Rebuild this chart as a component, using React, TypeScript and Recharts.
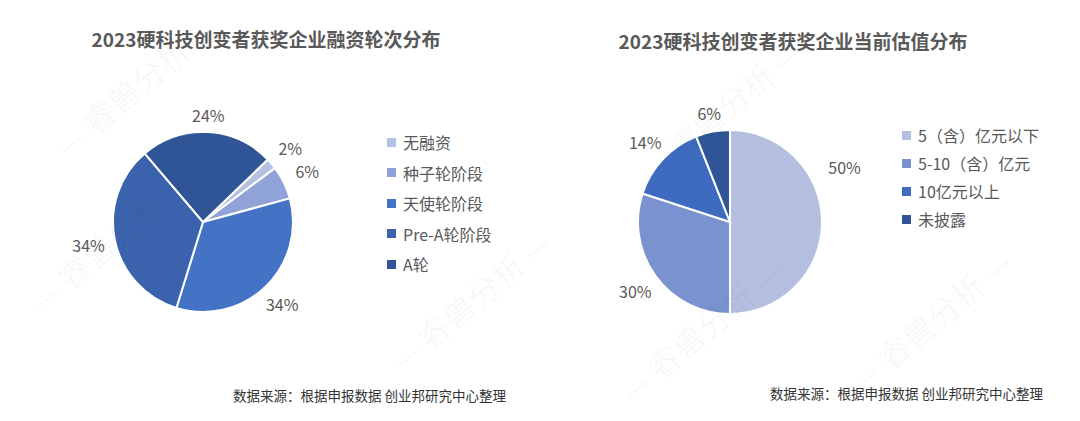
import React from 'react';
import { PieChart, Pie, Cell, Legend } from 'recharts';

const roundNames = ['无融资', '种子轮阶段', '天使轮阶段', 'Pre-A轮阶段', 'A轮'];
const roundValues = [2, 6, 34, 34, 24];
const roundColors = ['#b4c1e3', '#8fa3d6', '#4472c4', '#3b63ad', '#2f5597'];

const valuationNames = ['5（含）亿元以下', '5-10（含）亿元', '10亿元以上', '未披露'];
const valuationValues = [50, 30, 14, 6];
const valuationColors = ['#b4bfe0', '#7a93d0', '#3e6abf', '#2f5597'];

const roundData = roundNames.map((name, i) => ({ name, value: roundValues[i] }));
const valuationData = valuationNames.map((name, i) => ({ name, value: valuationValues[i] }));

const FONT = '"Noto Sans CJK SC", "Noto Sans", sans-serif';
const GREY = '#595959';
const RADIAN = Math.PI / 180;
const NO_MARGIN = { top: 0, right: 0, bottom: 0, left: 0 };

// Excel "best fit" moved this one label up and out
const labelOverride: Record<string, { angle: number; dist: number }> = {
  '5（含）亿元以下': { angle: 25.6, dist: 127 },
};

const renderLabel = (props: any) => {
  const { cx, cy, midAngle, outerRadius, value, name } = props;
  const cos = Math.abs(Math.cos(midAngle * RADIAN));
  let angle = midAngle;
  let dist = outerRadius + 17 + 10 * cos;
  if (labelOverride[name]) {
    angle = labelOverride[name].angle;
    dist = labelOverride[name].dist;
  }
  const x = cx + dist * Math.cos(-angle * RADIAN);
  const y = cy + dist * Math.sin(-angle * RADIAN);
  return (
    <text x={x} y={y} fill={GREY} fontSize={16} fontFamily={FONT} textAnchor="middle" dominantBaseline="central">
      {`${value}%`}
    </text>
  );
};

// legend keeps the data order (recharts would sort it otherwise)
const makeLegend = (names: string[], colors: string[], gap: number) => () => (
  <div>
    {names.map((name, i) => (
      <div key={name} style={{ display: 'flex', alignItems: 'center', height: gap }}>
        <span style={{ width: 9, height: 9, background: colors[i], marginRight: 7, display: 'inline-block' }} />
        <span style={{ fontSize: 16, color: GREY, fontFamily: FONT, whiteSpace: 'nowrap' }}>{name}</span>
      </div>
    ))}
  </div>
);

const titleStyle: React.CSSProperties = {
  position: 'absolute',
  fontFamily: FONT,
  fontWeight: 700,
  fontSize: 19,
  color: GREY,
  whiteSpace: 'nowrap',
  transform: 'translateX(-50%)',
};

const sourceStyle: React.CSSProperties = {
  position: 'absolute',
  fontFamily: FONT,
  fontSize: 13.5,
  color: '#333',
  whiteSpace: 'nowrap',
};

const watermarks = [
  { x: 135, y: 85 },
  { x: 110, y: 240 },
  { x: 470, y: 300 },
  { x: 720, y: 110 },
  { x: 700, y: 330 },
  { x: 930, y: 320 },
];

export default function App() {
  return (
    <div style={{ position: 'absolute', left: 0, top: 0, width: 1080, height: 421, background: '#fff', overflow: 'hidden' }}>
      <div style={{ ...titleStyle, left: 266, top: 25 }}>2023硬科技创变者获奖企业融资轮次分布</div>
      <div style={{ ...titleStyle, left: 793, top: 27 }}>2023硬科技创变者获奖企业当前估值分布</div>

      <div style={{ position: 'absolute', left: 0, top: 0 }}>
        <PieChart width={540} height={421} margin={NO_MARGIN}>
          <Pie
            data={roundData}
            dataKey="value"
            nameKey="name"
            cx={203}
            cy={222}
            outerRadius={90}
            startAngle={44}
            endAngle={-316}
            stroke="#fff"
            strokeWidth={2}
            label={renderLabel}
            labelLine={false}
            isAnimationActive={false}
          >
            {roundData.map((d, i) => (
              <Cell key={d.name} fill={roundColors[i]} />
            ))}
          </Pie>
          <Legend
            layout="vertical"
            content={makeLegend(roundNames, roundColors, 30.5)}
            wrapperStyle={{ left: 387, top: 127, width: 140, bottom: 'auto' }}
          />
        </PieChart>
      </div>

      <div style={{ position: 'absolute', left: 540, top: 0 }}>
        <PieChart width={540} height={421} margin={NO_MARGIN}>
          <Pie
            data={valuationData}
            dataKey="value"
            nameKey="name"
            cx={190}
            cy={222}
            outerRadius={92}
            startAngle={90}
            endAngle={-270}
            stroke="#fff"
            strokeWidth={2}
            label={renderLabel}
            labelLine={false}
            isAnimationActive={false}
          >
            {valuationData.map((d, i) => (
              <Cell key={d.name} fill={valuationColors[i]} />
            ))}
          </Pie>
          <Legend
            layout="vertical"
            content={makeLegend(valuationNames, valuationColors, 28)}
            wrapperStyle={{ left: 362, top: 121, width: 175, bottom: 'auto' }}
          />
        </PieChart>
      </div>

      <div style={{ ...sourceStyle, left: 233, top: 385 }}>数据来源：根据申报数据 创业邦研究中心整理</div>
      <div style={{ ...sourceStyle, left: 770, top: 383 }}>数据来源：根据申报数据 创业邦研究中心整理</div>

      <svg width={1080} height={421} style={{ position: 'absolute', left: 0, top: 0, pointerEvents: 'none' }}>
        {watermarks.map((w, i) => (
          <text
            key={i}
            x={w.x}
            y={w.y}
            transform={`rotate(-40 ${w.x} ${w.y})`}
            fill="#000"
            fillOpacity={0.035}
            fontSize={32}
            fontFamily={FONT}
            textAnchor="middle"
            dominantBaseline="central"
          >
            — 睿兽分析 —
          </text>
        ))}
      </svg>
    </div>
  );
}
